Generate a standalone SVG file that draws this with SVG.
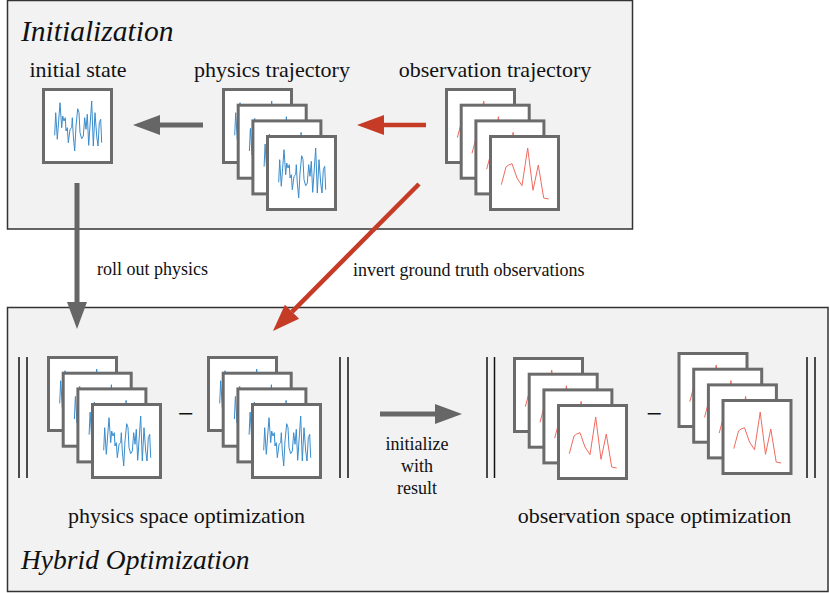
<svg xmlns="http://www.w3.org/2000/svg" xmlns:xlink="http://www.w3.org/1999/xlink" width="830" height="593" viewBox="0 0 830 593">
<style>
.box{fill:#f2f2f2;stroke:#333;stroke-width:1.5}
.frame{fill:#fff;stroke:#6b6b6b;stroke-width:3}
.blue{fill:none;stroke:#3a8ccc;stroke-width:1;stroke-linejoin:round}
.red{fill:none;stroke:#ef6b5f;stroke-width:1;stroke-linejoin:round}
text{font-family:'Liberation Serif','Times New Roman',Times,serif}
.lbl{font-size:22px;fill:#111;text-anchor:middle}
.small{font-size:18px;fill:#111}
.title{font-style:italic;fill:#111}
.minus{font-size:28px;fill:#111;text-anchor:middle}
.bar{stroke:#111;stroke-width:1.5}
.gray{stroke:#666;stroke-width:5;fill:none}
.redc{stroke:#c63b26;stroke-width:4.5;fill:none}
</style>
<defs>
<g id="bp">
<rect class="frame" x="1.5" y="1.5" width="68" height="73"/>
<polyline class="blue" points="12.7,47.3 13.7,24.7 15.3,51.3 18,14.7 19.7,39.7 20.7,28 22,33 23.3,29.7 24,43 25.3,39.7 26.3,54.7 28,41.3 29.7,39.7 30.3,29.7 31.3,48 32.7,63 34,38 35.7,20.7 37,24.7 38,44.7 39.7,50.7 41.3,48 42.7,29.7 44,41.3 45.3,26.3 46.7,57.3 48,38 49.7,13 51.3,58 53,24.7 54.7,48 56,58 57.3,34.7 58.7,31.3 59.7,54.7"/>
</g>
<g id="rp">
<rect class="frame" x="1.5" y="1.5" width="68" height="73"/>
<polyline class="red" points="12.3,49.7 17,32 19.7,30 23,28.7 28,43 33,50.7 38.7,13 44,55.3 49.3,30 54.7,63 59.7,64"/>
</g>
<g id="bstack">
<use xlink:href="#bp" x="0" y="0"/>
<use xlink:href="#bp" x="14.7" y="15.7"/>
<use xlink:href="#bp" x="29.4" y="31.4"/>
<use xlink:href="#bp" x="44" y="47"/>
</g>
<g id="rstack">
<use xlink:href="#rp" x="0" y="0"/>
<use xlink:href="#rp" x="14.7" y="15.7"/>
<use xlink:href="#rp" x="29.4" y="31.4"/>
<use xlink:href="#rp" x="44" y="47"/>
</g>
<marker id="ahg" markerUnits="userSpaceOnUse" markerWidth="27" markerHeight="20" refX="0" refY="10" orient="auto" overflow="visible">
<path d="M0,0 L27,10 L0,20 Z" fill="#666"/>
</marker>
<marker id="ahr" markerUnits="userSpaceOnUse" markerWidth="27" markerHeight="20" refX="0" refY="10" orient="auto" overflow="visible">
<path d="M0,0 L27,10 L0,20 Z" fill="#c63b26"/>
</marker>
</defs>

<g id="initialization">
<rect class="box" x="7.5" y="0.5" width="625" height="228.5"/>
<text class="title" x="21" y="41" font-size="29.5">Initialization</text>
</g>

<g id="hybrid-optimization">
<rect class="box" x="7.5" y="307.5" width="820.5" height="284"/>
<text class="title" x="21" y="569" font-size="27.5">Hybrid Optimization</text>
</g>

<g id="initial-state">
<text class="lbl" x="78" y="77">initial state</text>
<use xlink:href="#bp" x="42" y="88"/>
</g>

<g id="physics-trajectory">
<text class="lbl" x="272" y="77">physics trajectory</text>
<use xlink:href="#bstack" x="222" y="88"/>
</g>

<g id="observation-trajectory">
<text class="lbl" x="495" y="77">observation trajectory</text>
<use xlink:href="#rstack" x="445" y="88"/>
</g>

<g id="physics-space-optimization">
<line class="bar" x1="19" y1="357" x2="19" y2="478"/>
<line class="bar" x1="27" y1="357" x2="27" y2="478"/>
<use xlink:href="#bstack" x="47" y="356"/>
<text class="minus" x="186" y="423">−</text>
<use xlink:href="#bstack" x="207" y="356"/>
<line class="bar" x1="340" y1="357" x2="340" y2="478"/>
<line class="bar" x1="348" y1="357" x2="348" y2="478"/>
<text class="lbl" x="186.5" y="523">physics space optimization</text>
</g>

<g id="observation-space-optimization">
<line class="bar" x1="487" y1="357" x2="487" y2="478"/>
<line class="bar" x1="494.5" y1="357" x2="494.5" y2="478"/>
<use xlink:href="#rstack" x="513" y="357"/>
<text class="minus" x="654.5" y="423">−</text>
<use xlink:href="#rstack" x="677.5" y="352"/>
<line class="bar" x1="807" y1="357" x2="807" y2="478"/>
<line class="bar" x1="815" y1="357" x2="815" y2="478"/>
<text class="lbl" x="654.5" y="523">observation space optimization</text>
</g>

<g id="connectors">
<line class="gray" x1="203" y1="125" x2="160" y2="125" marker-end="url(#ahg)"/>
<line class="redc" x1="426" y1="125" x2="384" y2="125" marker-end="url(#ahr)"/>
<line class="gray" x1="77" y1="183" x2="77" y2="302" marker-end="url(#ahg)"/>
<text class="small" x="97" y="275">roll out physics</text>
<line class="redc" x1="419" y1="184" x2="292" y2="311.8" marker-end="url(#ahr)"/>
<text class="small" x="353" y="276">invert ground truth observations</text>
<line class="gray" x1="380" y1="414" x2="435" y2="414" marker-end="url(#ahg)"/>
<text class="small" x="417" y="450" text-anchor="middle">initialize</text>
<text class="small" x="417" y="472" text-anchor="middle">with</text>
<text class="small" x="417" y="494" text-anchor="middle">result</text>
</g>
</svg>
